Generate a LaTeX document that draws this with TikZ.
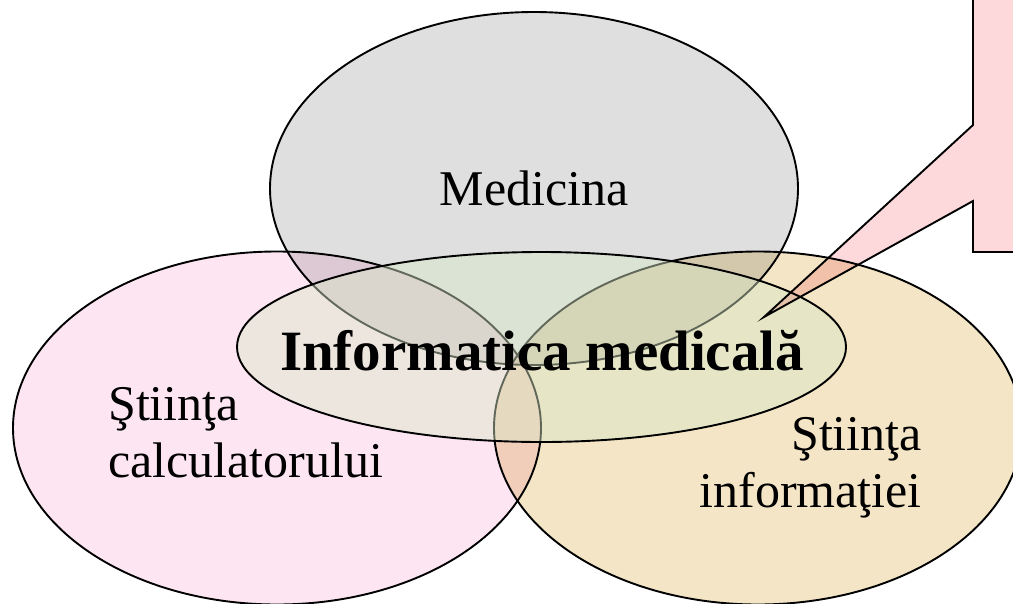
\documentclass[tikz,border=0pt]{standalone}
\usepackage{fontspec}
\setmainfont{Liberation Serif}
\usepackage{tikz}
\usetikzlibrary{shapes.geometric,positioning}
\definecolor{pinkc}{HTML}{FDE6F2}
\definecolor{beigec}{HTML}{F3E5C5}
\definecolor{grayc}{HTML}{DFDFDF}
\definecolor{greenc}{HTML}{D8E8C8}
\definecolor{notec}{HTML}{FDD9DC}
\tikzstyle{venn}=[draw,ellipse,line width=1.9pt,minimum width=528pt,minimum height=353pt,inner sep=0pt]
\tikzstyle{txt}=[inner sep=0pt,font=\fontsize{50}{57}\selectfont]

\begin{document}
\begin{tikzpicture}[x=1pt,y=-1pt]
\useasboundingbox (0,0) rectangle (1013,603);
\clip (0,0) rectangle (1013,603);
\node [venn,fill=pinkc] (calc) at (277,428) {};
\node [venn,fill=beigec,blend mode=multiply] (info) at (758,428) {};
\node [venn,fill=grayc,blend mode=multiply] (med) at (534,188.5) {};
\node [venn,fill=greenc,fill opacity=0.45,minimum width=609pt,minimum height=190pt] (mi) at (541.5,347) {};
% callout
\coordinate (tip) at (764,317);
\draw [line width=1.9pt,fill=notec,blend mode=multiply] (973,-20) -- (1040,-20) -- (1040,252) -- (973,252)
  -- (973,201) -- (tip) -- (973,125) -- cycle;
% texts
\node [txt] (medt) at (med) {Medicina};
\node [txt,anchor=base,font=\fontsize{57}{60}\selectfont\bfseries] (mit) at (542,370) {Informatica medicală};
\node [txt,anchor=north west,align=left] (calct) at (108,387) {Ştiinţa\\calculatorului};
\node [txt,anchor=north east,align=right] (infot) at (922,417) {Ştiinţa\\informaţiei};
\end{tikzpicture}
\end{document}
